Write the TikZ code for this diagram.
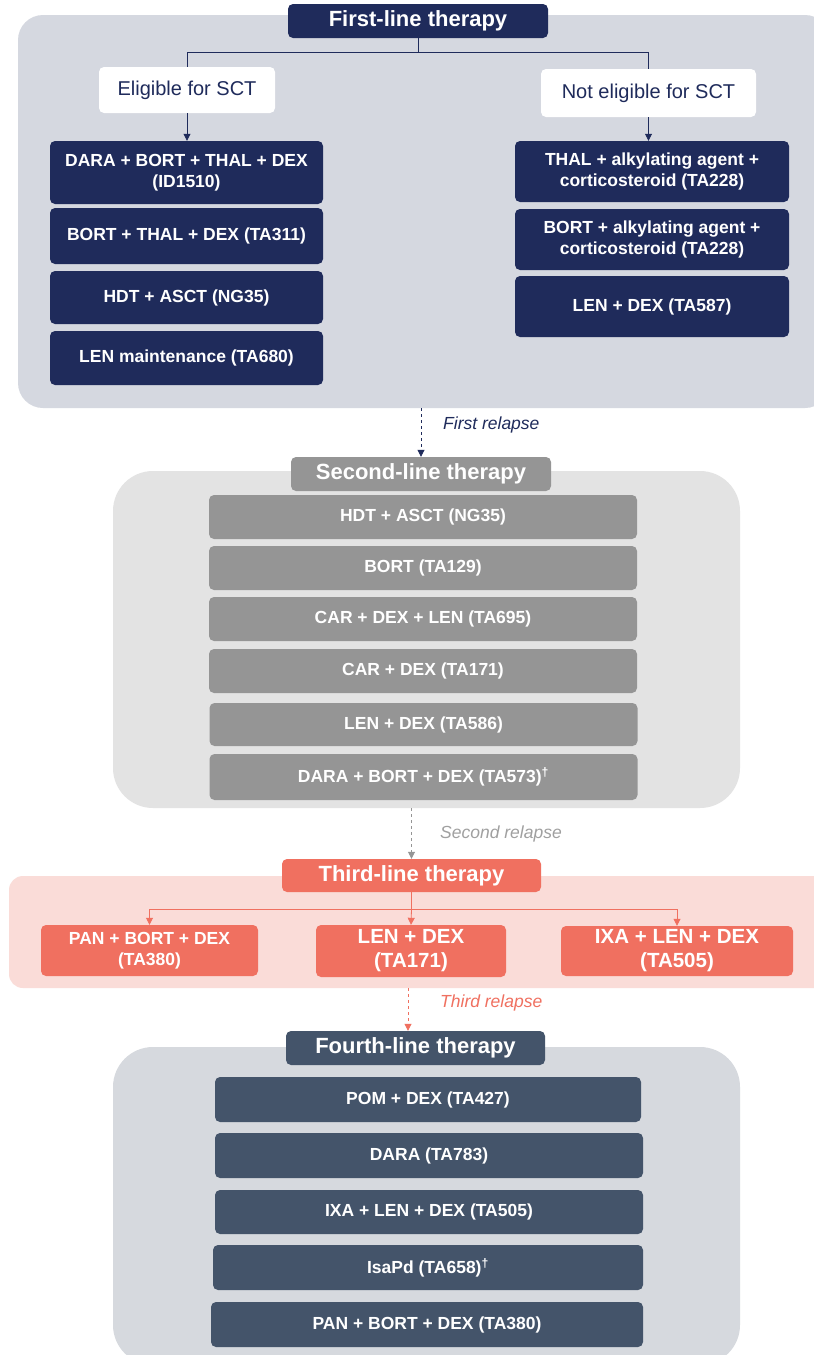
\documentclass[tikz,border=0pt]{standalone}
\usepackage{fontspec}
\setmainfont{Liberation Sans}
\usetikzlibrary{arrows.meta}
\definecolor{navy}{RGB}{31,43,91}
\definecolor{bgone}{RGB}{213,216,224}
\definecolor{greybox}{RGB}{149,149,149}
\definecolor{bgtwo}{RGB}{227,227,227}
\definecolor{salmon}{RGB}{240,112,96}
\definecolor{bgthree}{RGB}{250,220,216}
\definecolor{slate}{RGB}{68,84,106}
\definecolor{bgfour}{RGB}{214,217,222}
\definecolor{relgrey}{RGB}{160,160,160}
\tikzset{
  panel/.style={draw=none, inner sep=0pt},
  tbox/.style={rounded corners=5pt, inner sep=0pt, text=white, align=center,
     font=\bfseries\fontsize{17.5}{21.5}\selectfont},
  title/.style={tbox, font=\bfseries\fontsize{22}{26}\selectfont},
  wbox/.style={rounded corners=5pt, fill=white, inner sep=0pt, text=navy,
     font=\fontsize{20}{24}\selectfont},
  rel/.style={font=\itshape\fontsize{17.5}{21}\selectfont, anchor=west, inner sep=0pt},
  conn/.style={line width=0.8pt},
  arr/.style={conn, -{Triangle[length=7pt,width=7pt]}},
}
\begin{document}
\begin{tikzpicture}[x=1pt,y=-1pt]
\clip (0,0) rectangle (814,1355);
\fill[white] (0,0) rectangle (814,1355);
% ---------- panels
\node[panel, fill=bgone, rounded corners=25pt, minimum width=812, minimum height=393] (p1) at (424,211.5) {};
\node[panel, fill=bgtwo, rounded corners=40pt, minimum width=627, minimum height=337] (p2) at (426.5,639.5) {};
\node[panel, fill=bgthree, rounded corners=14pt, minimum width=821, minimum height=112] (p3) at (419.5,932) {};
\node[panel, fill=bgfour, rounded corners=40pt, minimum width=627, minimum height=318] (p4) at (426.5,1206) {};
% ---------- first line
\node[title, fill=navy, minimum width=260, minimum height=34] (t1) at (418,21) {\raisebox{-1pt}{First-line therapy}};
\node[wbox, minimum width=176, minimum height=46] (e1) at (187,90) {Eligible for SCT};
\node[wbox, minimum width=215, minimum height=48] (e2) at (648.5,93) {Not eligible for SCT};
\tikzset{nb/.style={tbox, fill=navy}}
\node[nb, minimum width=273, minimum height=63] (a1) at (186.5,172.5) {DARA + BORT + THAL + DEX\\(ID1510)};
\node[nb, minimum width=273, minimum height=56] (a2) at (186.5,236) {BORT + THAL + DEX (TA311)};
\node[nb, minimum width=273, minimum height=53] (a3) at (186.5,297.5) {HDT + ASCT (NG35)};
\node[nb, minimum width=273, minimum height=54] (a4) at (186.5,358) {LEN maintenance (TA680)};
\node[nb, minimum width=274, minimum height=61] (b1) at (652,171.5) {THAL + alkylating agent +\\corticosteroid (TA228)};
\node[nb, minimum width=274, minimum height=61] (b2) at (652,239.5) {BORT + alkylating agent +\\corticosteroid (TA228)};
\node[nb, minimum width=274, minimum height=61] (b3) at (652,306.5) {LEN + DEX (TA587)};
\draw[conn, navy] (t1.south) -- ++(0,14) coordinate (j1);
\draw[conn, navy] (j1) -| (e1.north);
\draw[conn, navy] (j1) -| (e2.north);
\draw[arr, navy] (e1.south) -- (e1.south |- a1.north);
\draw[arr, navy] (e2.south) -- (e2.south |- b1.north);
% ---------- second line
\node[title, fill=greybox, minimum width=260, minimum height=34] (t2) at (421,474) {\raisebox{-1pt}{Second-line therapy}};
\draw[arr, navy, dashed] (t2.north |- p1.south) -- (t2.north);
\node[rel, text=navy] (r1) at (443,425) {First relapse};
\tikzset{gb/.style={tbox, fill=greybox, minimum width=428}}
\node[gb, minimum height=44] (c1) at (423,517) {HDT + ASCT (NG35)};
\node[gb, minimum height=44] (c2) at (423,568) {BORT (TA129)};
\node[gb, minimum height=44] (c3) at (423,619) {CAR + DEX + LEN (TA695)};
\node[gb, minimum height=44] (c4) at (423,671) {CAR + DEX (TA171)};
\node[gb, minimum height=43] (c5) at (423.5,724.5) {LEN + DEX (TA586)};
\node[gb, minimum height=46] (c6) at (423.5,777) {DARA + BORT + DEX (TA573)\textsuperscript{\textdagger}};
% ---------- third line
\node[title, fill=salmon, minimum width=259, minimum height=33] (t3) at (411.5,875.5) {\raisebox{-1pt}{Third-line therapy}};
\draw[arr, greybox, dashed] (t3.north |- p2.south) -- (t3.north);
\node[rel, text=relgrey] (r2) at (440,834) {Second relapse};
\tikzset{sb/.style={tbox, fill=salmon}}
\node[sb, minimum width=217, minimum height=51] (d1) at (149.5,950.5) {PAN + BORT + DEX\\(TA380)};
\node[sb, minimum width=190, minimum height=52, font=\bfseries\fontsize{20.5}{24}\selectfont] (d2) at (411,951) {LEN + DEX\\(TA171)};
\node[sb, minimum width=232, minimum height=50, font=\bfseries\fontsize{20.5}{24}\selectfont] (d3) at (677,951) {IXA + LEN + DEX\\(TA505)};
\draw[conn, salmon] (t3.south) -- ++(0,17) coordinate (j3);
\draw[arr, salmon] (j3) -| (d1.north);
\draw[arr, salmon] (j3) -- (d2.north);
\draw[arr, salmon] (j3) -| (d3.north);
% ---------- fourth line
\node[title, fill=slate, minimum width=259, minimum height=34] (t4) at (415.5,1048) {\raisebox{-1pt}{Fourth-line therapy}};
\draw[arr, salmon, dashed] ([xshift=-7.5pt]t4.north |- p3.south) -- ([xshift=-7.5pt]t4.north);
\node[rel, text=salmon] (r3) at (440,1003) {Third relapse};
\tikzset{lb/.style={tbox, fill=slate}}
\node[lb, minimum width=426, minimum height=45] (f1) at (428,1099.5) {POM + DEX (TA427)};
\node[lb, minimum width=428, minimum height=45] (f2) at (429,1155.5) {DARA (TA783)};
\node[lb, minimum width=428, minimum height=44] (f3) at (429,1212) {IXA + LEN + DEX (TA505)};
\node[lb, minimum width=430, minimum height=45] (f4) at (428,1267.5) {IsaPd (TA658)\textsuperscript{\textdagger}};
\node[lb, minimum width=432, minimum height=45] (f5) at (427,1324.5) {PAN + BORT + DEX (TA380)};
\end{tikzpicture}
\end{document}
